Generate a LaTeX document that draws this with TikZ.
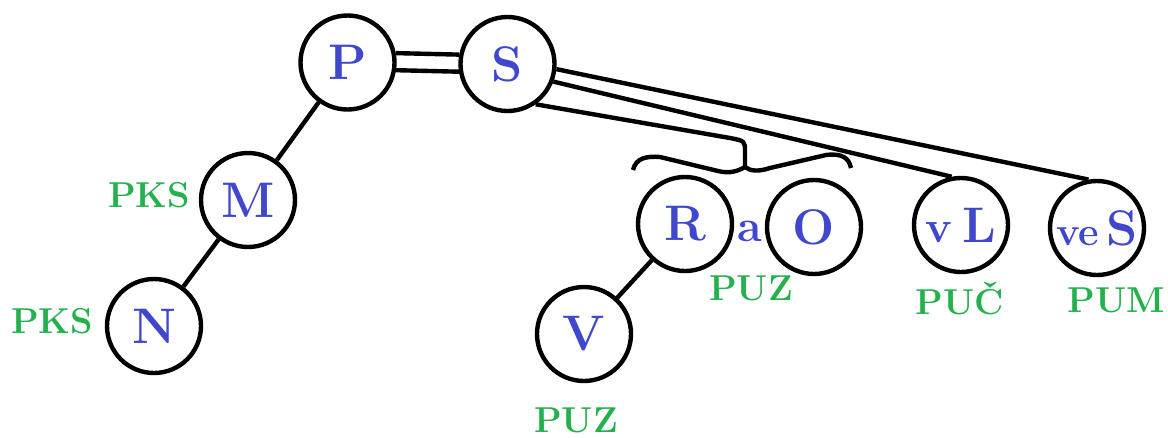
\documentclass[tikz,border=0pt]{standalone}
\usepackage{tikz}

\definecolor{letterblue}{RGB}{63,72,204}
\definecolor{labelgreen}{RGB}{34,177,76}

\begin{document}
\begin{tikzpicture}[x=1pt, y=-1pt, line width=4.4pt,
	vertex/.style={draw, circle, minimum size=94pt, inner sep=0pt, text=letterblue, font=\bfseries\fontsize{50}{50}\selectfont},
	tag/.style={anchor=base, text=labelgreen, font=\bfseries\fontsize{36}{36}\selectfont}]
	\useasboundingbox (0,0) rectangle (1168,437);
	\node[vertex] (P) at (347.5,62.5) {P};
	\node[vertex] (S) at (507.5,64) {S};
	\node[vertex] (M) at (248,200) {M};
	\node[vertex] (N) at (154,326) {N};
	\node[vertex] (R) at (685,224) {R};
	\node[vertex] (O) at (814,227) {O};
	\node[vertex] (vL) at (961,225) {{\fontsize{45}{45}\selectfont v}\hspace{10pt}L};
	\node[vertex] (veS) at (1097,228) {{\fontsize{40}{40}\selectfont ve}\hspace{7pt}S};
	\node[vertex] (V) at (584,334) {V};
	\node[anchor=base, text=letterblue, font=\bfseries\fontsize{45}{45}\selectfont] (a) at (750,241) {a};
	\coordinate (tip) at (745,167);
	% zelene popisky
	\node[tag] (pksM) at (149,207) {PKS};
	\node[tag] (pksN) at (52,333) {PKS};
	\node[tag] (puzRO) at (751,300) {PUZ};
	\node[tag] (puzV) at (576,432) {PUZ};
	\node[tag] (pucL) at (960,314) {PUČ};
	\node[tag] (pumS) at (1116,312) {PUM};
	% spoje
	\draw (P.11) -- (S.169);
	\draw (P.-9) -- (S.-171);
	\draw (P) -- (M);
	\draw (M) -- (N);
	\draw (R) -- (V);
	\draw (S.-6) -- (veS.100);
	\draw (S.-21) -- (vL.101);
	\draw (S.-55) -- (730,138) .. controls (745,141) .. (745,152) -- (tip);
	\draw (633,170) .. controls (636,158) and (646,156) .. (660,157) -- (718,171) .. controls (730,174) and (738,171) .. (tip)
		.. controls (750,171) and (758,172) .. (770,168) -- (826,155) .. controls (842,153) and (849,158) .. (851,168);
\end{tikzpicture}
\end{document}
